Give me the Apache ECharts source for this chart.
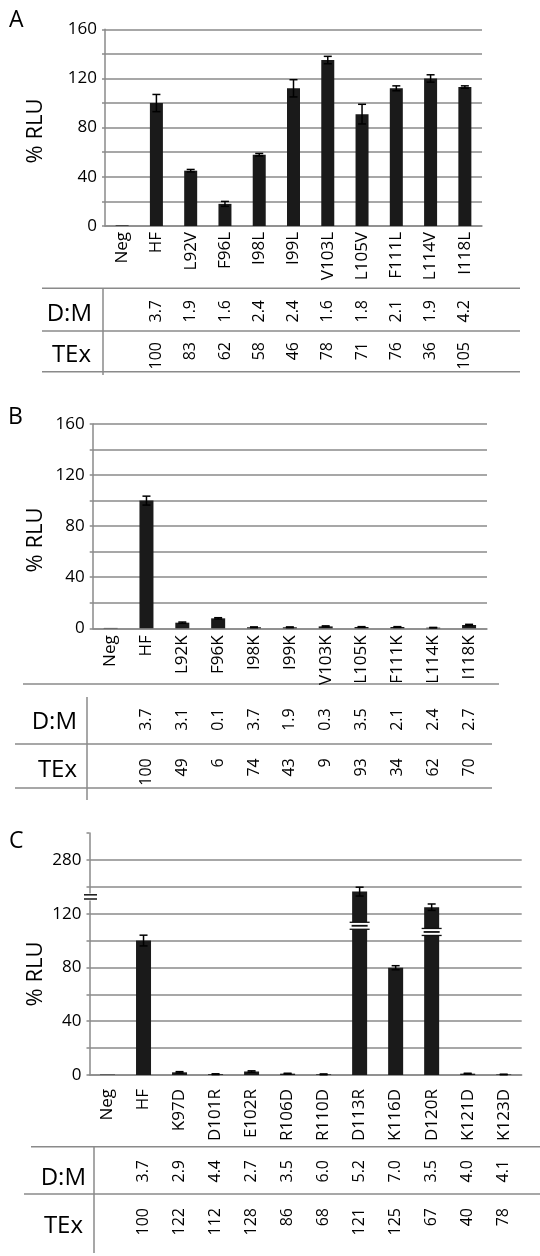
<!DOCTYPE html>
<html>
<head>
<meta charset="utf-8">
<script src="https://cdn.jsdelivr.net/npm/echarts@6/dist/echarts.min.js"></script>
<style>
  html, body { margin: 0; padding: 0; background: #fff; }
  #main { width: 540px; height: 1256px; }
</style>
</head>
<body>
<div id="main"></div>
<script>
  // panel A - conservative substitutions
  const catsA = ['Neg', 'HF', 'L92V', 'F96L', 'I98L', 'I99L', 'V103L', 'L105V', 'F111L', 'L114V', 'I118L']
  const rluA = [0.5, 100, 45, 18, 58, 112, 135, 91, 112, 120, 113]
  const errA = [0, 7, 1, 2, 1, 7, 3, 8, 2, 3, 1]
  const dmA = ['', '3.7', '1.9', '1.6', '2.4', '2.4', '1.6', '1.8', '2.1', '1.9', '4.2']
  const texA = ['', '100', '83', '62', '58', '46', '78', '71', '76', '36', '105']

  // panel B - lysine substitutions
  const catsB = ['Neg', 'HF', 'L92K', 'F96K', 'I98K', 'I99K', 'V103K', 'L105K', 'F111K', 'L114K', 'I118K']
  const rluB = [0.3, 100, 4.4, 7.8, 0.8, 0.8, 1.5, 1, 1, 0.5, 2.6]
  const errB = [0, 3.5, 0.5, 0.5, 0.3, 0.3, 0.4, 0.3, 0.3, 0.2, 0.5]
  const dmB = ['', '3.7', '3.1', '0.1', '3.7', '1.9', '0.3', '3.5', '2.1', '2.4', '2.7']
  const texB = ['', '100', '49', '6', '74', '43', '9', '93', '34', '62', '70']

  // panel C - charge swaps (broken axis: 160 is labelled 280)
  const catsC = ['Neg', 'HF', 'K97D', 'D101R', 'E102R', 'R106D', 'R110D', 'D113R', 'K116D', 'D120R', 'K121D', 'K123D']
  const rluC = [0.3, 100, 2, 0.6, 2.6, 1, 0.5, 136.4, 79.8, 124.8, 1, 0.4]
  const errC = [0, 4, 0.5, 0.3, 0.5, 0.3, 0.3, 3.3, 1.5, 2.4, 0.3, 0.2]
  const dmC = ['', '3.7', '2.9', '4.4', '2.7', '3.5', '6.0', '5.2', '7.0', '3.5', '4.0', '4.1']
  const texC = ['', '100', '122', '112', '128', '86', '68', '121', '125', '67', '40', '78']
  const breaksC = [[7, 111], [9, 106.4]]
  const yTicksC = { 0: '0', 40: '40', 80: '80', 120: '120', 160: '280' }

  const FONT = '"Open Sans", "Noto Sans", sans-serif'
  const GRAY = '#8a8a8a'
  const INK = '#000'

  let chart = echarts.init(document.getElementById('main'))

  function mainX(g, cats, margin) {
    return {
      type: 'category', gridIndex: g, data: cats,
      axisLine: { lineStyle: { color: GRAY, width: 1.5 } },
      axisTick: { length: 5, lineStyle: { color: GRAY, width: 1.5 } },
      axisLabel: { rotate: 90, margin: margin, interval: 0, fontSize: 17, color: INK, fontFamily: FONT }
    }
  }
  function rowX(g, cats, vals, offset) {
    return {
      type: 'category', gridIndex: g, data: cats, position: 'bottom', offset: offset,
      axisLine: { show: false }, axisTick: { show: false }, splitLine: { show: false },
      axisLabel: {
        rotate: 90, margin: 0, interval: 0, fontSize: 16, color: INK, fontFamily: FONT,
        formatter: (v, i) => vals[i]
      }
    }
  }
  function yAx(g, max, fmt) {
    return {
      type: 'value', gridIndex: g, min: 0, max: max, interval: 20,
      axisLine: { show: true, lineStyle: { color: GRAY, width: 1.5 } },
      axisTick: { show: true, length: 3, lineStyle: { color: GRAY, width: 1.5 } },
      splitLine: { show: true, showMaxLine: max === 160, lineStyle: { color: GRAY, width: 1.5 } },
      axisLabel: { margin: 8, fontSize: 17, color: INK, fontFamily: FONT, formatter: fmt }
    }
  }
  function bars(g, vals, w) {
    return {
      type: 'bar', xAxisIndex: g * 3, yAxisIndex: g, data: vals, barWidth: w,
      itemStyle: { color: '#1a1a1a' }, silent: true
    }
  }
  function errBars(g, vals, errs) {
    return {
      type: 'custom', xAxisIndex: g * 3, yAxisIndex: g, silent: true, z: 5,
      data: vals.map((v, i) => [i, v, errs[i]]),
      encode: { x: 0, y: 1 },
      renderItem: function (params, api) {
        let i = api.value(0), v = api.value(1), e = api.value(2)
        if (!e) return
        let hi = api.coord([i, v + e])
        let lo = api.coord([i, v - e])
        let st = { stroke: '#000', lineWidth: 1.5 }
        return {
          type: 'group', children: [
            { type: 'line', shape: { x1: hi[0], y1: hi[1], x2: lo[0], y2: lo[1] }, style: st },
            { type: 'line', shape: { x1: hi[0] - 4, y1: hi[1], x2: hi[0] + 4, y2: hi[1] }, style: st },
            { type: 'line', shape: { x1: lo[0] - 4, y1: lo[1], x2: lo[0] + 4, y2: lo[1] }, style: st }
          ]
        }
      }
    }
  }
  // "=" break drawn across a bar
  function barBreaks(g, pts) {
    return {
      type: 'custom', xAxisIndex: g * 3, yAxisIndex: g, silent: true, z: 6,
      data: pts, encode: { x: 0, y: 1 },
      renderItem: function (params, api) {
        let c = api.coord([api.value(0), api.value(1)])
        let ink = { stroke: '#111', lineWidth: 1.3 }
        let x = c[0], y = c[1]
        return {
          type: 'group', children: [
            { type: 'rect', shape: { x: x - 9, y: y - 3.5, width: 18, height: 7 }, style: { fill: '#fff' } },
            { type: 'line', shape: { x1: x - 10, y1: y - 3.5, x2: x + 10, y2: y - 3.5 }, style: ink },
            { type: 'line', shape: { x1: x - 8, y1: y, x2: x + 8, y2: y }, style: { stroke: '#111', lineWidth: 1.8 } },
            { type: 'line', shape: { x1: x - 10, y1: y + 3.5, x2: x + 10, y2: y + 3.5 }, style: ink }
          ]
        }
      }
    }
  }

  const fmt40 = v => (v % 40 === 0 ? String(v) : '')
  const fmtC = v => (yTicksC[v] !== undefined ? yTicksC[v] : '')

  function hline(x1, x2, y) {
    return { type: 'line', shape: { x1: x1, y1: y, x2: x2, y2: y }, style: { stroke: GRAY, lineWidth: 1.5 }, silent: true }
  }
  function vline(x, y1, y2) {
    return { type: 'line', shape: { x1: x, y1: y1, x2: x, y2: y2 }, style: { stroke: GRAY, lineWidth: 1.5 }, silent: true }
  }
  function txt(s, x, y, size, align, rot) {
    return {
      type: 'text', x: x, y: y, rotation: rot || 0, silent: true,
      style: { text: s, fontSize: size, fontFamily: FONT, fill: INK, align: align, verticalAlign: 'middle' }
    }
  }

  chart.setOption({
    animation: false,
    grid: [
      { left: 105, top: 29.3, width: 377, height: 196.7 },
      { left: 92.7, top: 424, width: 394.3, height: 204.3 },
      { left: 89.5, top: 833, width: 432.2, height: 242 }
    ],
    xAxis: [
      mainX(0, catsA, 6), rowX(0, catsA, dmA, 74), rowX(0, catsA, texA, 116),
      mainX(1, catsB, 7), rowX(1, catsB, dmB, 80), rowX(1, catsB, texB, 130),
      mainX(2, catsC, 14), rowX(2, catsC, dmC, 85), rowX(2, catsC, texC, 133)
    ],
    yAxis: [yAx(0, 160, fmt40), yAx(1, 160, fmt40), yAx(2, 180, fmtC)],
    series: [
      bars(0, rluA, 13), errBars(0, rluA, errA),
      bars(1, rluB, 14), errBars(1, rluB, errB),
      bars(2, rluC, 15), errBars(2, rluC, errC),
      barBreaks(2, breaksC)
    ],
    graphic: [
      txt('A', 9, 20, 23, 'left'),
      txt('B', 8, 417, 23, 'left'),
      txt('C', 9, 841, 23, 'left'),
      txt('% RLU', 35.7, 131, 22, 'center', Math.PI / 2),
      txt('% RLU', 35.7, 540, 22, 'center', Math.PI / 2),
      txt('% RLU', 35.7, 974, 22, 'center', Math.PI / 2),

      // table A
      hline(42, 520, 288.3), hline(42, 520, 331), hline(42, 520, 371.7), vline(103, 288.3, 375),
      txt('D:M', 92, 314, 24, 'right'), txt('TEx', 91, 355, 24, 'right'),
      // table B
      hline(23, 499, 684), hline(15, 492, 744), hline(15, 492, 788), vline(87, 697, 800),
      txt('D:M', 77, 722, 24, 'right'), txt('TEx', 77, 770, 24, 'right'),
      // table C
      hline(31, 540, 1146.7), hline(24, 540, 1194), vline(94, 1146.7, 1253),
      txt('D:M', 86, 1178, 24, 'right'), txt('TEx', 83, 1226, 24, 'right'),

      // axis break mark on C
      { type: 'rect', shape: { x: 86, y: 893.5, width: 8, height: 7 }, style: { fill: '#fff' }, silent: true, z: 10 },
      { type: 'line', shape: { x1: 84, y1: 894.8, x2: 97, y2: 894.8 }, style: { stroke: '#222', lineWidth: 1.6 }, silent: true, z: 11 },
      { type: 'line', shape: { x1: 84, y1: 899, x2: 97, y2: 899 }, style: { stroke: '#222', lineWidth: 1.6 }, silent: true, z: 11 }
    ]
  })
</script>
</body>
</html>
